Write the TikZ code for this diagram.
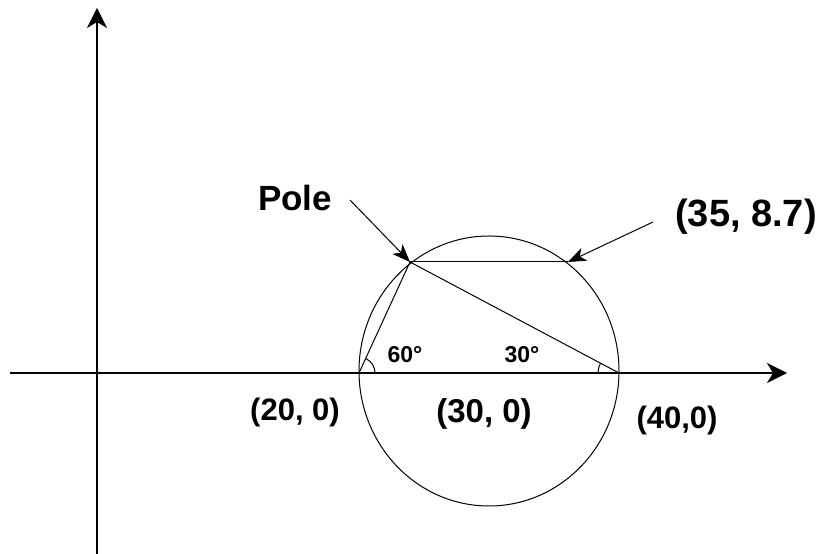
\documentclass[tikz,border=0pt]{standalone}
\usepackage{fontspec}
\setmainfont{Liberation Sans}
\usetikzlibrary{arrows.meta}
\tikzset{
  axis/.style={line width=1.8pt, -{Stealth[length=20pt,width=20pt,inset=6pt]}},
  thin line/.style={line width=1pt},
  pointer/.style={line width=1pt, -{Stealth[length=18pt,width=14pt,inset=5pt]}},
  lbl/.style={inner sep=0pt, font=\fontsize{31}{31}\selectfont\bfseries},
  anglbl/.style={inner sep=0pt, font=\fontsize{23}{23}\selectfont\bfseries},
}
\begin{document}
\begin{tikzpicture}[x=1pt,y=1pt]
\useasboundingbox (0,0) rectangle (822,554);
% key points
\coordinate (xs) at (10,181);
\coordinate (xe) at (787,181);
\coordinate (ys) at (97,0);
\coordinate (ye) at (97,546);
\coordinate (A20) at (359,181);
\coordinate (A40) at (619,181);
\coordinate (C) at (489,183);
\coordinate (P) at (410,292);
\coordinate (Q) at (568,292);
\coordinate (ptail) at (350,354);
\coordinate (qtail) at (653,332);
% axes
\draw[axis] (xs) -- (xe);
\draw[axis] (ys) -- (ye);
% circle
\draw[thin line] (C) ellipse [x radius=130, y radius=135];
% chords
\draw[thin line] (A20) -- (P) -- (A40);
\draw[thin line] (P) -- (Q);
% angle marks
\draw[thin line] ([xshift=16pt]A20) arc[start angle=0, end angle=65, radius=16];
\draw[thin line] ([xshift=-21pt]A40) arc[start angle=180, end angle=152, radius=21];
% pointers
\draw[pointer] (ptail) -- (P);
\draw[pointer] (qtail) -- (Q);
% labels
\node[lbl, font=\fontsize{35}{35}\selectfont\bfseries] (pole) at (295,356) {Pole};
\node[lbl, font=\fontsize{38}{38}\selectfont\bfseries] (q) at (746,337) {(35, 8.7)};
\node[lbl] (l20) at (295,142) {(20, 0)};
\node[lbl, font=\fontsize{33}{33}\selectfont\bfseries] (l30) at (484,140) {(30, 0)};
\node[lbl] (l40) at (677,134) {(40,0)};
\node[anglbl] (a60) at (405,199) {60°};
\node[anglbl] (a30) at (522,199) {30°};
\end{tikzpicture}
\end{document}
